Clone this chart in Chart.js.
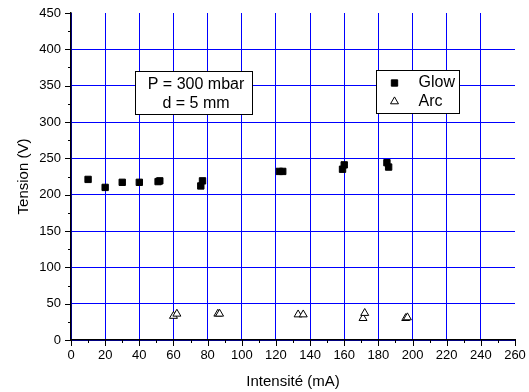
<!DOCTYPE html>
<html lang="fr">
<head>
<meta charset="utf-8">
<title>Tension - Intensité</title>
<script src="https://cdn.jsdelivr.net/npm/chart.js@4.4.0/dist/chart.umd.min.js"></script>
<style>
  html, body { margin: 0; padding: 0; background: #fff; }
</style>
</head>
<body>
<canvas id="tensionChart" width="529" height="392"></canvas>
<script>
// Datos
const glowCourant = [10, 20, 30, 40, 51, 52, 76, 77, 122, 124, 159, 160, 185, 186];
const glowTension = [221, 210, 217, 217, 218, 219, 212, 219, 232, 232, 235, 241, 244, 238];
const arcCourant = [60, 62, 86, 87, 133, 136, 171, 172, 196, 197];
const arcTension = [33, 36, 36, 36, 35, 35, 30, 37, 30, 31];

const xTicks = [0, 20, 40, 60, 80, 100, 120, 140, 160, 180, 200, 220, 240, 260];
const yTicks = [0, 50, 100, 150, 200, 250, 300, 350, 400, 450];
const conditions = ['P = 300 mbar', 'd = 5 mm'];

const FONT = 'Arial, "Liberation Sans", sans-serif';

// Pasar arrays a puntos {x, y}
function toPoints(xs, ys) {
    return xs.map((x, i) => ({ x: x, y: ys[i] }));
}

// Quitar el margen extra que Chart.js reserva para las etiquetas extremas
function noLabelPadding(axis) {
    axis.paddingLeft = 0;
    axis.paddingRight = 0;
    axis.paddingTop = 0;
    axis.paddingBottom = 0;
}

// Ticks menores (x cada 10, y cada 25)
const minorTicks = {
    id: 'minorTicks',
    afterDraw(chart) {
        const ctx = chart.ctx;
        const xs = chart.scales.x;
        const ys = chart.scales.y;
        ctx.save();
        ctx.strokeStyle = '#000';
        ctx.lineWidth = 1;
        ctx.beginPath();
        for (let v = xs.min; v <= xs.max; v += 10) {
            const px = Math.round(xs.getPixelForValue(v)) + 0.5;
            const len = xTicks.includes(v) ? 6 : 3;
            ctx.moveTo(px, ys.bottom);
            ctx.lineTo(px, ys.bottom + len);
        }
        for (let v = ys.min; v <= ys.max; v += 25) {
            const py = Math.round(ys.getPixelForValue(v)) + 0.5;
            const len = yTicks.includes(v) ? 6 : 3;
            ctx.moveTo(xs.left, py);
            ctx.lineTo(xs.left - len, py);
        }
        ctx.stroke();
        ctx.restore();
    }
};

// Cuadro de texto y leyenda dentro del grafico
const boxes = {
    id: 'boxes',
    afterDatasetsDraw(chart) {
        const ctx = chart.ctx;
        const xs = chart.scales.x;
        const ys = chart.scales.y;
        ctx.save();
        ctx.lineWidth = 1;
        ctx.strokeStyle = '#000';
        ctx.fillStyle = '#fff';

        // Condiciones P / d
        let l = Math.round(xs.getPixelForValue(37.2)) + 0.5;
        let r = Math.round(xs.getPixelForValue(106)) + 0.5;
        let t = Math.round(ys.getPixelForValue(370)) + 0.5;
        let b = Math.round(ys.getPixelForValue(311)) + 0.5;
        ctx.fillRect(l, t, r - l, b - t);
        ctx.strokeRect(l, t, r - l, b - t);
        ctx.fillStyle = '#000';
        ctx.font = '16px ' + FONT;
        ctx.textAlign = 'center';
        ctx.textBaseline = 'middle';
        conditions.forEach((txt, i) => {
            ctx.fillText(txt, (l + r) / 2 + 2, t + 13.5 + i * 18.5);
        });

        // Leyenda
        l = Math.round(xs.getPixelForValue(178.6)) + 0.5;
        r = Math.round(xs.getPixelForValue(227)) + 0.5;
        t = Math.round(ys.getPixelForValue(371.5)) + 0.5;
        b = Math.round(ys.getPixelForValue(312)) + 0.5;
        ctx.fillStyle = '#fff';
        ctx.fillRect(l, t, r - l, b - t);
        ctx.strokeRect(l, t, r - l, b - t);
        ctx.textAlign = 'left';
        chart.data.datasets.forEach((ds, i) => {
            const y = t + 12.5 + i * 18.5;
            ctx.fillStyle = ds.backgroundColor;
            ctx.strokeStyle = ds.borderColor;
            ctx.lineWidth = ds.borderWidth;
            Chart.helpers.drawPoint(ctx, {
                pointStyle: ds.pointStyle,
                radius: ds.pointRadius,
                rotation: 0,
                borderWidth: ds.borderWidth
            }, l + 18, y);
            ctx.fillStyle = '#000';
            ctx.fillText(ds.label, l + 42, y);
        });
        ctx.restore();
    }
};

const tensionChart = new Chart(document.getElementById('tensionChart'), {
    type: 'scatter',
    data: {
        datasets: [{
            label: 'Glow',
            data: toPoints(glowCourant, glowTension),
            pointStyle: 'rect',
            pointRadius: 4.5,
            backgroundColor: '#000',
            borderColor: '#000',
            borderWidth: 1
        }, {
            label: 'Arc',
            data: toPoints(arcCourant, arcTension),
            pointStyle: 'triangle',
            pointRadius: 4.6,
            backgroundColor: '#fff',
            borderColor: '#000',
            borderWidth: 1
        }]
    },
    options: {
        responsive: false,
        animation: false,
        devicePixelRatio: 1,
        layout: { padding: { top: 13, right: 14, left: 0, bottom: 0 } },
        plugins: {
            legend: { display: false },
            tooltip: { enabled: false }
        },
        scales: {
            x: {
                type: 'linear',
                min: 0,
                max: 260,
                afterBuildTicks: axis => { axis.ticks = xTicks.map(v => ({ value: v })); },
                afterFit: axis => { axis.height = 52; noLabelPadding(axis); },
                grid: {
                    color: c => (c.tick && c.tick.value === 260) ? 'rgba(0,0,0,0)' : '#0000ff',
                    lineWidth: 1,
                    drawTicks: false
                },
                border: { color: '#000', width: 1.5 },
                ticks: { color: '#000', font: { family: FONT, size: 13 }, padding: 8, maxRotation: 0, autoSkip: false },
                title: {
                    display: true,
                    text: 'Intensité (mA)',
                    color: '#000',
                    font: { family: FONT, size: 15 },
                    padding: { top: 0, bottom: 1 }
                }
            },
            y: {
                type: 'linear',
                min: 0,
                max: 450,
                afterBuildTicks: axis => { axis.ticks = yTicks.map(v => ({ value: v })); },
                afterFit: axis => { axis.width = 71; noLabelPadding(axis); },
                grid: {
                    color: c => (c.tick && c.tick.value === 450) ? 'rgba(0,0,0,0)' : '#0000ff',
                    lineWidth: 1,
                    drawTicks: false
                },
                border: { color: '#000', width: 1.5 },
                ticks: { color: '#000', font: { family: FONT, size: 13 }, padding: 10, autoSkip: false },
                title: {
                    display: true,
                    text: 'Tension (V)',
                    color: '#000',
                    font: { family: FONT, size: 15 },
                    padding: { top: 15, bottom: 0 }
                }
            }
        }
    },
    plugins: [minorTicks, boxes]
});
</script>
</body>
</html>
